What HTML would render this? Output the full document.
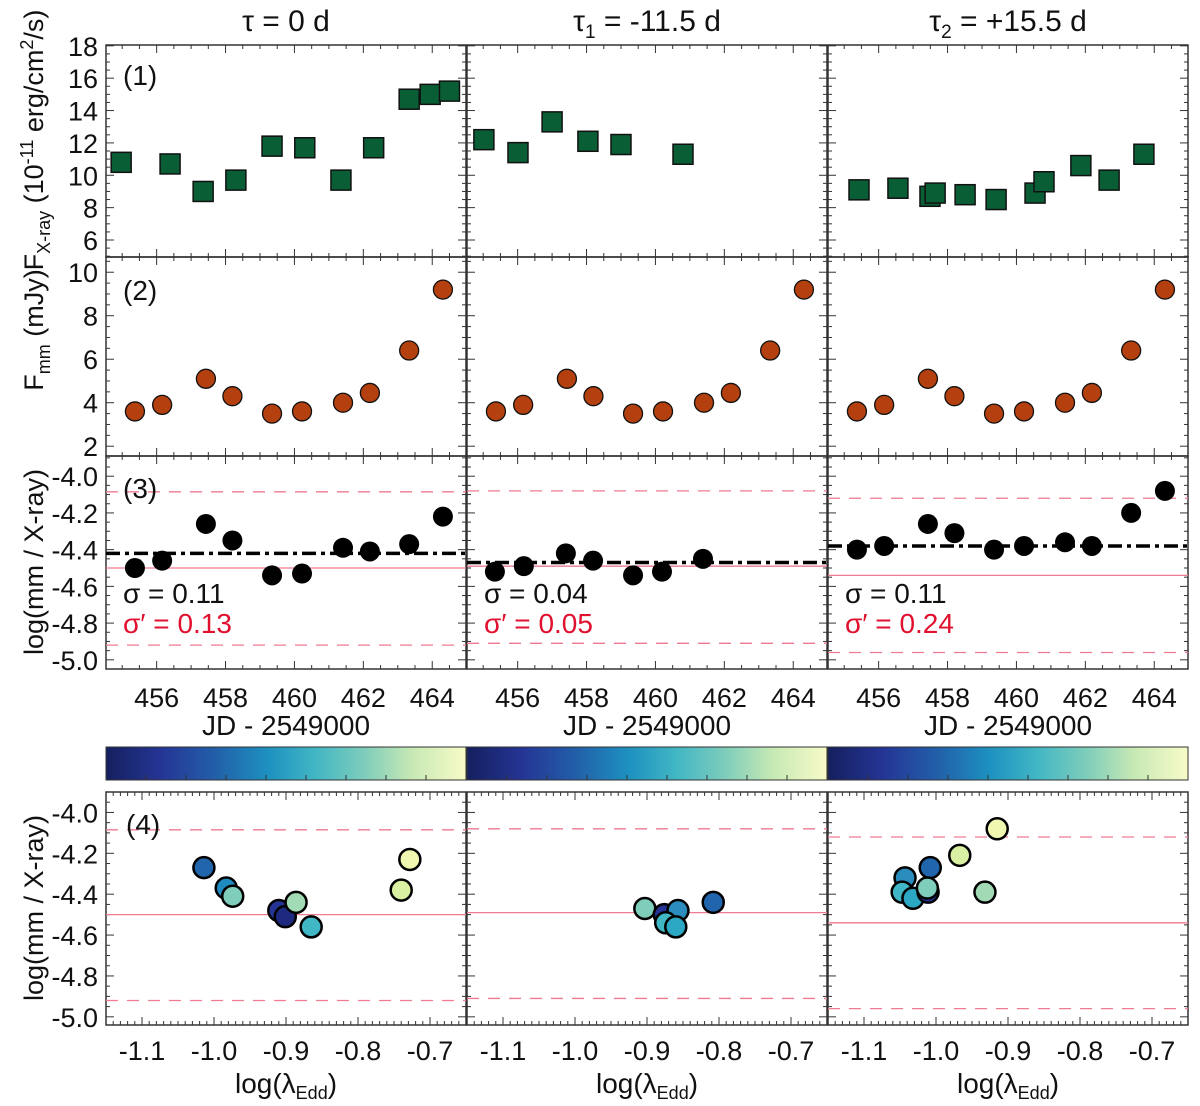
<!DOCTYPE html>
<html><head><meta charset="utf-8"><style>
body{margin:0;background:#fff}
svg{display:block;font-family:"Liberation Sans",sans-serif}
</style></head><body>
<svg id="fig" width="1200" height="1106" viewBox="0 0 1200 1106" xmlns="http://www.w3.org/2000/svg">
<defs>
<linearGradient id="ylgnbu" x1="0" x2="1" y1="0" y2="0">
<stop offset="0" stop-color="#14205e"/><stop offset="0.15" stop-color="#253494"/><stop offset="0.3" stop-color="#225ea8"/><stop offset="0.45" stop-color="#1d91c0"/><stop offset="0.58" stop-color="#41b6c4"/><stop offset="0.72" stop-color="#7fcdbb"/><stop offset="0.85" stop-color="#c7e9b4"/><stop offset="1" stop-color="#f8fbc8"/>
</linearGradient>
</defs>
</svg>
<script>
// ---- data ----
const colTitles = ["τ = 0 d", "τ₁ = -11.5 d", "τ₂ = +15.5 d"];
const xrayDays = [[454.97,456.39,457.35,458.3,459.35,460.3,461.35,462.3,463.33,463.94,464.5],[455.02,456.01,457.0,458.04,459.0,460.8],[455.43,456.56,457.49,457.64,458.51,459.41,460.54,460.8,461.87,462.69,463.7]];
const xrayFlux = [[10.8,10.7,9.0,9.7,11.8,11.7,9.7,11.7,14.7,15.0,15.2],[12.2,11.4,13.3,12.1,11.9,11.3],[9.1,9.2,8.7,8.9,8.8,8.5,8.9,9.6,10.6,9.7,11.3]];
const mmDays = [455.37,456.16,457.43,458.2,459.35,460.22,461.41,462.19,463.33,464.31];
const mmFlux = [3.6,3.9,5.1,4.3,3.5,3.6,4.0,4.45,6.4,9.2];
const ratioDays = [mmDays,[455.34,456.18,457.4,458.19,459.35,460.19,461.38],mmDays];
const ratioVals = [[-4.50,-4.46,-4.26,-4.35,-4.54,-4.53,-4.39,-4.41,-4.37,-4.22],[-4.52,-4.49,-4.42,-4.46,-4.54,-4.52,-4.45],[-4.40,-4.38,-4.26,-4.31,-4.40,-4.38,-4.36,-4.38,-4.20,-4.08]];
const meanRatio = [-4.42,-4.47,-4.38];
const fitRatio = [-4.50,-4.49,-4.54];
const bandUpper = [-4.085,-4.08,-4.12];
const bandLower = [-4.92,-4.91,-4.96];
const sigmaText = ["0.11","0.04","0.11"];
const sigmaPrimeText = ["0.13","0.05","0.24"];
const eddX = [[-1.014,-0.983,-0.974,-0.91,-0.901,-0.886,-0.865,-0.74,-0.728],[-0.903,-0.876,-0.857,-0.874,-0.86,-0.808],[-0.915,-0.967,-1.008,-1.043,-1.047,-1.032,-1.011,-1.012,-0.932]];
const eddY = [[-4.27,-4.37,-4.41,-4.48,-4.51,-4.44,-4.56,-4.38,-4.23],[-4.47,-4.50,-4.48,-4.54,-4.56,-4.44],[-4.08,-4.21,-4.27,-4.32,-4.39,-4.42,-4.39,-4.37,-4.39]];
const eddColor = [["#2166ac","#1f8bc0","#7fcdbb","#253494","#1d2a80","#a1dab4","#41b6c4","#d9f0a3","#f0f7b0"],["#7fcdbb","#253494","#2b8cbe","#41b6c4","#2ca7c4","#2166ac"],["#f0f7b0","#d9f0a3","#2166ac","#2b8cbe","#41b6c4","#2ca7c4","#253494","#7fcdbb","#a1dab4"]];
const dayTicks = [456,458,460,462,464];
const eddTicks = [-1.1,-1.0,-0.9,-0.8,-0.7];
const xrayTicks = [6,8,10,12,14,16,18];
const mmTicks = [2,4,6,8,10];
const ratioTicks = [-5.0,-4.8,-4.6,-4.4,-4.2,-4.0];

// ---- layout ----
const svg = document.getElementById('fig');
const NS = "http://www.w3.org/2000/svg";
const colL = [106,467,828], colW = 360;
const rows = {
  r1:{top:45,bot:257,y0:4.95,y1:18.05,x0:454.53,x1:464.98},
  r2:{top:257,bot:456,y0:1.55,y1:10.7,x0:454.53,x1:464.98},
  r3:{top:456,bot:669,y0:-5.05,y1:-3.89,x0:454.53,x1:464.98},
  r4:{top:792,bot:1025,y0:-5.04,y1:-3.90,x0:-1.15,x1:-0.65}
};
function mk(tag, attrs, parent){const e=document.createElementNS(NS,tag);for(const k in attrs)e.setAttribute(k,attrs[k]);(parent||svg).appendChild(e);return e;}
function xs(r,c,v){return colL[c]+(v-r.x0)/(r.x1-r.x0)*colW;}
function ys(r,v){return r.bot-(v-r.y0)/(r.y1-r.y0)*(r.bot-r.top);}

function frame(r,c,xMin,xMaj,yMin,yMaj,name){
  const g=mk('g',{});
  
  
  mk('rect',{x:colL[c],y:r.top,width:colW,height:r.bot-r.top,fill:'none',stroke:'#333','stroke-width':1.5},g);
  const eps=1e-6;
  for(let v=Math.ceil(r.x0/xMin)*xMin; v<=r.x1; v+=xMin){
    const maj=Math.abs(v/xMaj-Math.round(v/xMaj))<1e-4; const L=maj?8:4; const x=xs(r,c,v);
    mk('line',{x1:x,x2:x,y1:r.bot,y2:r.bot-L,stroke:'#333','stroke-width':1},g);
    mk('line',{x1:x,x2:x,y1:r.top,y2:r.top+L,stroke:'#333','stroke-width':1},g);
  }
  for(let v=Math.ceil(r.y0/yMin-eps)*yMin; v<=r.y1; v+=yMin){
    const maj=Math.abs(v/yMaj-Math.round(v/yMaj))<1e-4; const L=maj?8:4; const y=ys(r,v);
    mk('line',{x1:colL[c],x2:colL[c]+L,y1:y,y2:y,stroke:'#333','stroke-width':1},g);
    mk('line',{x1:colL[c]+colW,x2:colL[c]+colW-L,y1:y,y2:y,stroke:'#333','stroke-width':1},g);
  }
  return g;
}
function text(x,y,s,attrs,name){
  const t=mk('text',Object.assign({x:x,y:y,'font-size':28,fill:'#111'},attrs||{}));
  t.textContent=s;
  
  
  return t;
}

for(let c=0;c<3;c++){
  // titles
  const tt=mk('text',{x:colL[c]+colW/2,y:31,'font-size':30,'text-anchor':'middle',fill:'#111'});
  
  
  if(c===0){tt.textContent="τ = 0 d";}
  else{
    const a=mk('tspan',{},tt);a.textContent="τ";
    const b=mk('tspan',{'font-size':19,dy:7},tt);b.textContent=String(c);
    const d=mk('tspan',{dy:-7},tt);d.textContent=c===1?" = -11.5 d":" = +15.5 d";
  }
  // row1
  let r=rows.r1; frame(r,c,0.5,2,0.5,2,'xray-panel-'+(c+1));
  xrayDays[c].forEach((d,i)=>{
    const s=mk('rect',{x:xs(r,c,d)-10,y:ys(r,xrayFlux[c][i])-10,width:20,height:20,fill:'#0a5e35',stroke:'#111','stroke-width':1.5});
    
    
  });
  // row2
  r=rows.r2; frame(r,c,0.5,2,0.5,2,'mm-panel-'+(c+1));
  mmDays.forEach((d,i)=>{
    const p=mk('circle',{cx:xs(r,c,d),cy:ys(r,mmFlux[i]),r:9.5,fill:'#b5400f',stroke:'#111','stroke-width':1.3});
    
    
  });
  // row3
  r=rows.r3; frame(r,c,0.5,2,0.05,0.2,'ratio-time-panel-'+(c+1));
  const lines=(rr,name)=>{
    const l1=mk('line',{x1:colL[c],x2:colL[c]+colW,y1:ys(rr,fitRatio[c]),y2:ys(rr,fitRatio[c]),stroke:'#f07a90','stroke-width':1.3});
     
    [bandUpper[c],bandLower[c]].forEach(v=>{
      const l=mk('line',{x1:colL[c],x2:colL[c]+colW,y1:ys(rr,v),y2:ys(rr,v),stroke:'#f07a90','stroke-width':1.3,'stroke-dasharray':'12 9'});
       
    });
  };
  lines(r,'ratio');
  const ml=mk('line',{x1:colL[c],x2:colL[c]+colW,y1:ys(r,meanRatio[c]),y2:ys(r,meanRatio[c]),stroke:'#000','stroke-width':3.5,'stroke-dasharray':'14 5 4 5'});
   
  ratioDays[c].forEach((d,i)=>{
    const p=mk('circle',{cx:xs(r,c,d),cy:ys(r,ratioVals[c][i]),r:10,fill:'#000'});
    
    
  });
  text(colL[c]+17,603,"σ = "+sigmaText[c],{},'sigma-label');
  text(colL[c]+17,633,"σ′ = "+sigmaPrimeText[c],{fill:'#e0102f'},'sigma-prime-label');
  dayTicks.forEach(v=>text(xs(r,c,v),707,String(v),{'text-anchor':'middle','font-size':27},'x-tick-label'));
  text(colL[c]+colW/2,735,"JD - 2549000",{'text-anchor':'middle'},'x-axis-title');
  // colorbar
  const cb=mk('rect',{x:colL[c],y:747,width:colW,height:33,fill:'url(#ylgnbu)',stroke:'#333','stroke-width':1});
   
  for(let k=1;k<9;k++){mk('line',{x1:colL[c]+k*40,x2:colL[c]+k*40,y1:780,y2:775,stroke:'#333'});}
  // row4
  r=rows.r4; frame(r,c,0.01,0.1,0.05,0.2,'ratio-edd-panel-'+(c+1));
  lines(r,'edd');
  eddX[c].forEach((v,i)=>{
    const p=mk('circle',{cx:xs(r,c,v),cy:ys(r,eddY[c][i]),r:10.5,fill:eddColor[c][i],stroke:'#000','stroke-width':2.5});
    
    
  });
  eddTicks.forEach(v=>text(xs(r,c,v),1060,v.toFixed(1),{'text-anchor':'middle','font-size':27},'x-tick-label'));
  const xt=text(colL[c]+colW/2,1093,"log(λ",{'text-anchor':'middle'},'x-axis-title');
  const sb=mk('tspan',{'font-size':18,dy:6},xt); sb.textContent="Edd";
  const cl=mk('tspan',{dy:-6},xt); cl.textContent=")";
}
// y tick labels (column 1)
xrayTicks.forEach(v=>text(98,ys(rows.r1,v)+10,String(v),{'text-anchor':'end','font-size':27},'y-tick-label'));
mmTicks.forEach(v=>text(98,ys(rows.r2,v)+10,String(v),{'text-anchor':'end','font-size':27},'y-tick-label'));
ratioTicks.forEach(v=>text(98,ys(rows.r3,v)+10,v.toFixed(1),{'text-anchor':'end','font-size':27},'y-tick-label'));
ratioTicks.forEach(v=>text(98,ys(rows.r4,v)+10,v.toFixed(1),{'text-anchor':'end','font-size':27},'y-tick-label'));
// panel labels
text(123,85,"(1)",{},'panel-label-1');
text(123,300,"(2)",{},'panel-label-2');
text(123,498,"(3)",{},'panel-label-3');
text(126,834,"(4)",{},'panel-label-4');
// y axis titles
function ytitle(cx,cy,parts,name){
  const t=mk('text',{x:0,y:0,'font-size':27,'text-anchor':'middle',fill:'#111',transform:`translate(${cx},${cy}) rotate(-90)`});
   
  parts.forEach(p=>{const s=mk('tspan',p.a||{},t);s.textContent=p.s;});
}
ytitle(43,140,[{s:"F"},{s:"X-ray",a:{'font-size':18,dy:7}},{s:" (10",a:{dy:-7}},{s:"-11",a:{'font-size':18,dy:-10}},{s:" erg/cm",a:{dy:10}},{s:"2",a:{'font-size':18,dy:-10}},{s:"/s)",a:{dy:10}}],'xray-y-axis-title');
ytitle(43,330,[{s:"F"},{s:"mm",a:{'font-size':18,dy:7}},{s:" (mJy)",a:{dy:-7}}],'mm-y-axis-title');
ytitle(43,562,[{s:"log(mm / X-ray)"}],'ratio-y-axis-title');
ytitle(43,908,[{s:"log(mm / X-ray)"}],'edd-y-axis-title');
</script>
</body></html>
